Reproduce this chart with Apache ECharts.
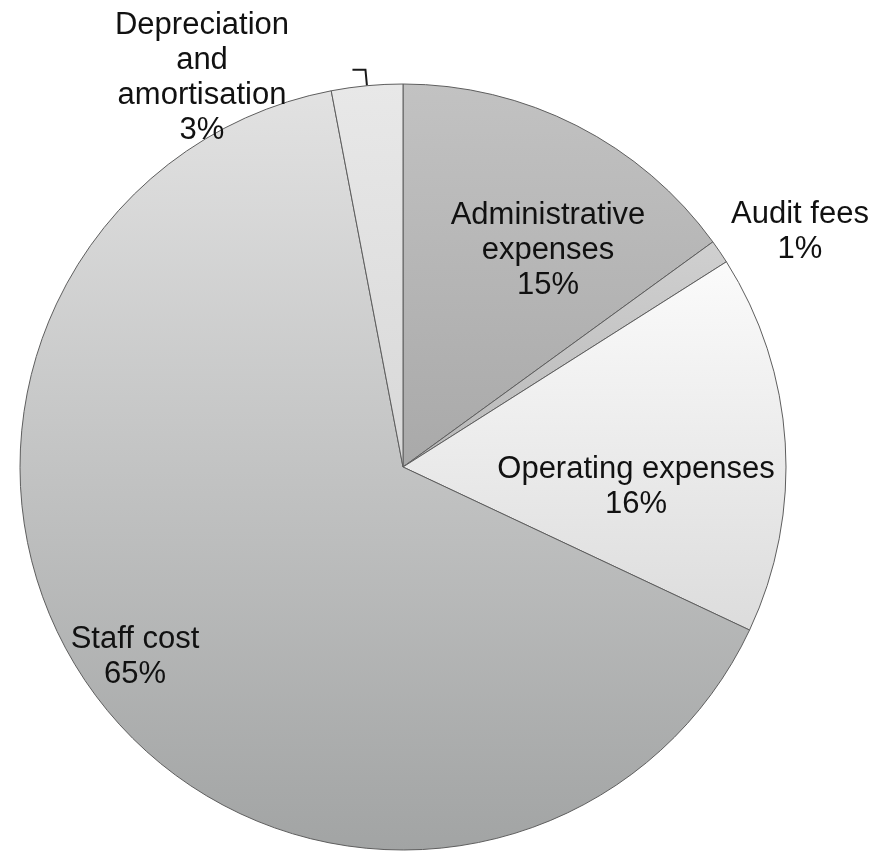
<!DOCTYPE html>
<html>
<head>
<meta charset="utf-8">
<script src="https://cdn.jsdelivr.net/npm/echarts@6/dist/echarts.min.js"></script>
<style>
  html, body { margin: 0; padding: 0; background: #ffffff; }
  #chart { width: 878px; height: 859px; }
</style>
</head>
<body>
<div id="chart"></div>
<script>
// Expense breakdown (share of total, %), clockwise from 12 o'clock
const categories = [
  'Administrative\nexpenses',
  'Audit fees',
  'Operating expenses',
  'Staff cost',
  'Depreciation\nand\namortisation'
];
const shares = [15, 1, 16, 65, 3];

// Slice fills: soft vertical grey gradients
function shade(top, bottom) {
  return new echarts.graphic.LinearGradient(0, 0, 0, 1, [
    { offset: 0, color: top },
    { offset: 1, color: bottom }
  ]);
}
const sliceFills = [
  shade('#c2c2c2', '#a9a9a9'),
  shade('#d0d0d0', '#b8b8b8'),
  shade('#fbfbfb', '#dcdcdc'),
  shade('#e2e2e2', '#a2a4a4'),
  shade('#e8e8e8', '#d8d8d8')
];

// Where each label block is centred (page pixels)
const labelCentres = [
  [548, 250],
  [800, 232],
  [636, 487],
  [135, 657],
  [202, 78]
];

const chart = echarts.init(document.getElementById('chart'), null, { renderer: 'canvas' });

chart.setOption({
  backgroundColor: '#ffffff',
  animation: false,
  series: [{
    type: 'pie',
    center: [403, 467],
    radius: 383,
    startAngle: 90,
    clockwise: true,
    avoidLabelOverlap: false,
    itemStyle: { borderColor: '#5e5e5e', borderWidth: 1 },
    label: {
      show: true,
      position: 'inside',
      color: '#111111',
      fontFamily: 'Liberation Sans, Arial, sans-serif',
      fontSize: 31,
      lineHeight: 35,
      align: 'center',
      formatter: p => p.name + '\n' + p.value + '%'
    },
    labelLine: { show: false },
    labelLayout: function (p) {
      const c = labelCentres[p.dataIndex];
      const out = { x: c[0], y: c[1], align: 'center', verticalAlign: 'middle' };
      if (p.labelLinePoints) out.labelLinePoints = p.labelLinePoints;
      return out;
    },
    data: categories.map((name, i) => {
      const item = { name: name, value: shares[i], itemStyle: { color: sliceFills[i] } };
      if (i === 4) {
        item.label = { position: 'outside' };
        item.labelLine = {
          show: true,
          length: 16,
          length2: 13,
          smooth: false,
          lineStyle: { color: '#1a1a1a', width: 2 }
        };
      }
      return item;
    })
  }]
});
</script>
</body>
</html>
